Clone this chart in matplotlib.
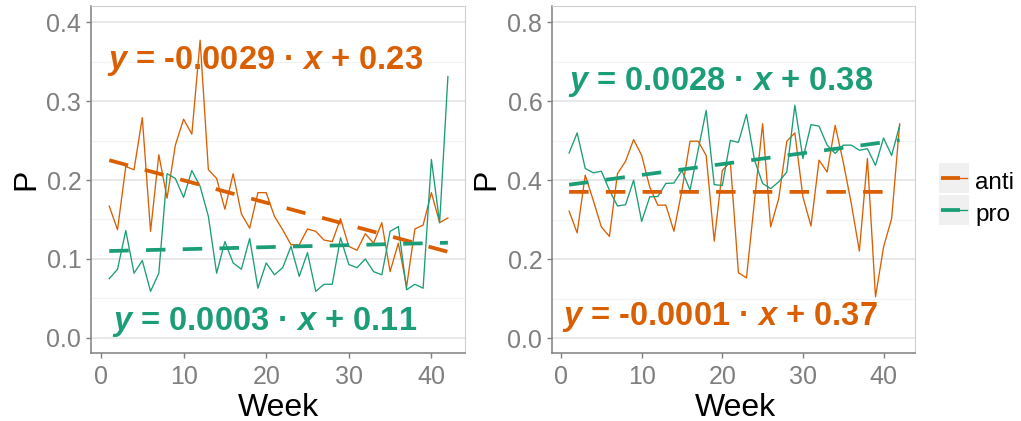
import numpy as np
import matplotlib
matplotlib.use("Agg")
import matplotlib.pyplot as plt
from matplotlib.lines import Line2D
from matplotlib.patches import Rectangle
from matplotlib.ticker import MultipleLocator

plt.rcParams['font.family'] = ['Liberation Sans', 'DejaVu Sans']
plt.rcParams['mathtext.fontset'] = 'custom'
plt.rcParams['mathtext.it'] = 'Liberation Sans:italic:bold'
plt.rcParams['mathtext.rm'] = 'Liberation Sans:bold'
plt.rcParams['mathtext.bf'] = 'Liberation Sans:bold'

weeks = list(range(1, 43))

left_anti = [0.167, 0.137, 0.217, 0.213, 0.279, 0.135, 0.232, 0.177, 0.244, 0.277,
             0.258, 0.377, 0.213, 0.202, 0.163, 0.208, 0.157, 0.139, 0.184, 0.184,
             0.154, 0.137, 0.118, 0.118, 0.138, 0.135, 0.124, 0.122, 0.151, 0.116,
             0.111, 0.132, 0.120, 0.146, 0.084, 0.120, 0.065, 0.138, 0.143, 0.184,
             0.146, 0.152]
left_pro = [0.075, 0.087, 0.136, 0.082, 0.098, 0.059, 0.082, 0.208, 0.202, 0.178,
            0.212, 0.192, 0.154, 0.082, 0.122, 0.095, 0.087, 0.126, 0.063, 0.095,
            0.080, 0.089, 0.116, 0.078, 0.108, 0.059, 0.068, 0.068, 0.127, 0.093,
            0.089, 0.100, 0.084, 0.080, 0.135, 0.141, 0.061, 0.068, 0.063, 0.226,
            0.146, 0.331]
right_anti = [0.322, 0.267, 0.413, 0.349, 0.282, 0.258, 0.417, 0.448, 0.503, 0.463,
              0.383, 0.337, 0.337, 0.271, 0.375, 0.499, 0.499, 0.463, 0.246, 0.425,
              0.446, 0.166, 0.153, 0.349, 0.543, 0.282, 0.354, 0.499, 0.520, 0.358,
              0.284, 0.451, 0.421, 0.539, 0.446, 0.341, 0.221, 0.455, 0.105, 0.231,
              0.303, 0.543]
right_pro = [0.469, 0.520, 0.430, 0.419, 0.423, 0.375, 0.335, 0.338, 0.400, 0.296,
             0.358, 0.359, 0.392, 0.393, 0.425, 0.375, 0.476, 0.577, 0.389, 0.387,
             0.501, 0.496, 0.567, 0.451, 0.392, 0.379, 0.396, 0.421, 0.590, 0.455,
             0.541, 0.537, 0.489, 0.468, 0.489, 0.489, 0.476, 0.480, 0.438, 0.507,
             0.463, 0.539]

left_labels = {"anti": r"$y$ = -0.0029 · $x$ + 0.23", "pro": r"$y$ = 0.0003 · $x$ + 0.11"}
right_labels = {"anti": r"$y$ = -0.0001 · $x$ + 0.37", "pro": r"$y$ = 0.0028 · $x$ + 0.38"}

ORANGE = "#D95F02"
GREEN = "#1B9E77"
TICKC = "#7f7f7f"

W, H = 1021, 421
fig = plt.figure(figsize=(W / 100, H / 100), dpi=100)

def px_axes(x0, x1, y0, y1):
    return fig.add_axes([x0 / W, (H - y1) / H, (x1 - x0) / W, (y1 - y0) / H])

axL = px_axes(91, 465, 6, 353.3)
axR = px_axes(552, 915, 6, 353.3)

def style(ax, ylim, xlim, major, minor):
    ax.set_xlim(*xlim)
    ax.set_ylim(*ylim)
    ax.yaxis.set_major_locator(MultipleLocator(major))
    ax.yaxis.set_minor_locator(MultipleLocator(minor))
    ax.xaxis.set_major_locator(MultipleLocator(10))
    ax.grid(axis='y', which='major', color='#e2e2e2', lw=1.1)
    ax.grid(axis='y', which='minor', color='#f3f3f3', lw=0.9)
    ax.set_axisbelow(True)
    for s in ('left', 'bottom'):
        ax.spines[s].set_color(TICKC)
        ax.spines[s].set_linewidth(1.1)
    for s in ('top', 'right'):
        ax.spines[s].set_color('#cfcfcf')
        ax.spines[s].set_linewidth(0.8)
    ax.tick_params(axis='both', which='major', length=3.5, width=1.0, color=TICKC,
                   labelcolor=TICKC, labelsize=18)
    ax.tick_params(axis='y', which='minor', length=0)
    ax.tick_params(axis='x', pad=5)
    ax.tick_params(axis='y', pad=3.5)
    ax.set_yticklabels([f"{v:.1f}" for v in ax.get_yticks()])

style(axL, (-0.0194, 0.4203), (-1.21, 44.07), 0.1, 0.05)
style(axR, (-0.038, 0.8413), (-1.12, 43.9), 0.2, 0.1)

x = np.array(weeks)
dash = (0, (5.2, 4.6))
for ax, anti, pro, labels, pos in (
        (axL, left_anti, left_pro, left_labels,
         {"anti": (0.73, 0.340), "pro": (1.33, 0.0105)}),
        (axR, right_anti, right_pro, right_labels,
         {"anti": (0.12, 0.0337), "pro": (0.87, 0.629)})):
    for vals, col, key in ((anti, ORANGE, "anti"), (pro, GREEN, "pro")):
        ax.plot(x, vals, color=col, lw=0.95, zorder=3)
        k, b = np.polyfit(x, np.array(vals), 1)
        ax.plot([x[0], x[-1]], [k * x[0] + b, k * x[-1] + b], color=col, lw=2.7,
                linestyle=dash, dash_capstyle='butt', zorder=4)
        ax.text(pos[key][0], pos[key][1], labels[key], color=col, fontsize=23.5,
                fontweight='bold', ha='left', va='baseline', zorder=5)

# axis titles
fig.text(278 / W, (H - 416) / H, "Week", fontsize=23, ha='center', va='baseline')
fig.text(735 / W, (H - 416) / H, "Week", fontsize=23, ha='center', va='baseline')
fig.text(26 / W, (H - 179) / H, "P", fontsize=23, rotation=90, ha='center', va='center')
fig.text(486 / W, (H - 179) / H, "P", fontsize=23, rotation=90, ha='center', va='center')

# legend
for (ytop, col, lab, base) in ((163, ORANGE, "anti", 189.5), (195, GREEN, "pro", 221.5)):
    fig.add_artist(Rectangle((939 / W, (H - ytop - 30) / H), 30 / W, 30 / H,
                             transform=fig.transFigure, facecolor='#f0f0f0',
                             edgecolor='none'))
    yc = (H - (ytop + 15)) / H
    fig.add_artist(Line2D([941 / W, 967 / W], [yc, yc], transform=fig.transFigure,
                          color=col, lw=0.95))
    fig.add_artist(Line2D([941 / W, 960 / W], [yc, yc], transform=fig.transFigure,
                          color=col, lw=2.7, solid_capstyle='butt'))
    fig.text(975 / W, (H - base) / H, lab, fontsize=17.5, ha='left', va='baseline')

fig.savefig("out.png", dpi=100)
